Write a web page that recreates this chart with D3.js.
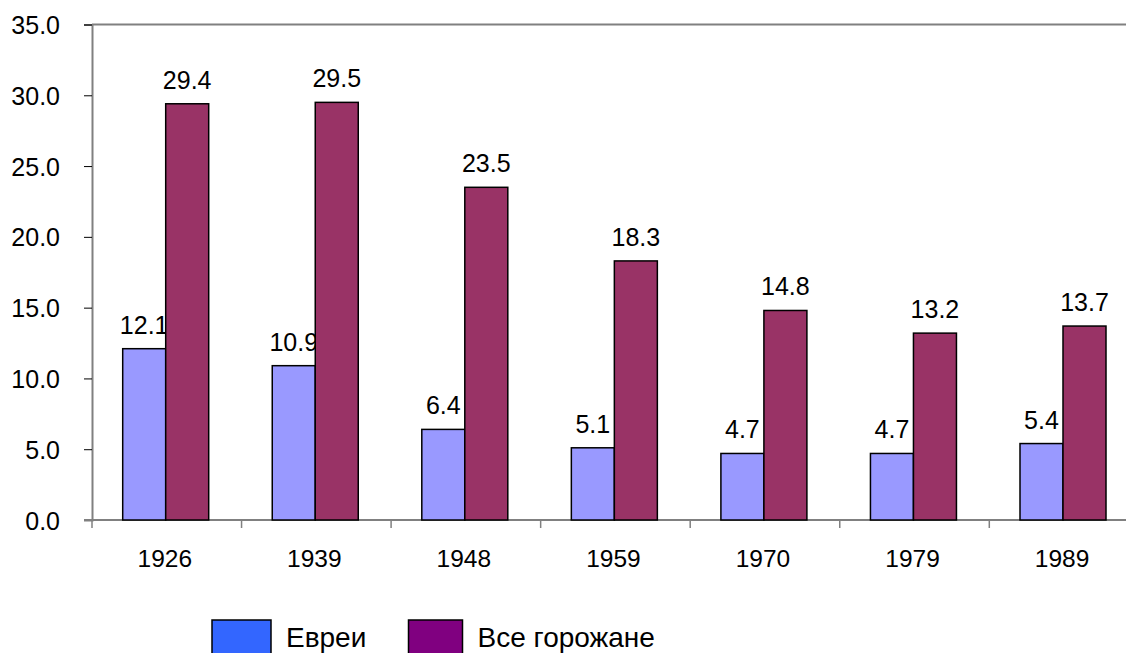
<!DOCTYPE html>
<html>
<head>
<meta charset="utf-8">
<script src="https://cdn.jsdelivr.net/npm/d3@7"></script>
<style>
    body { margin: 0; background: #fff; }
    svg { display: block; font-family: "Liberation Sans", Arial, sans-serif; }
</style>
</head>
<body>
<svg id="chart" width="1126" height="653"></svg>
<script>
// данные
const years = ['1926', '1939', '1948', '1959', '1970', '1979', '1989'];
const jews = [12.1, 10.9, 6.4, 5.1, 4.7, 4.7, 5.4];
const allUrban = [29.4, 29.5, 23.5, 18.3, 14.8, 13.2, 13.7];
const seriesNames = ['Евреи', 'Все горожане'];
const yTicks = [0, 5, 10, 15, 20, 25, 30, 35];

const svg = d3.select('#chart');
const plotLeft = 92, plotTop = 24.5, plotBottom = 520;
const step = 149.55;

let x = d3.scaleBand().domain(years).range([plotLeft, plotLeft + step * years.length]).padding(0);
let y = d3.scaleLinear().domain([0, 35]).range([plotBottom, plotTop]);

// верхняя рамка
svg.append('line')
    .attr('x1', plotLeft).attr('x2', 1126)
    .attr('y1', plotTop).attr('y2', plotTop)
    .attr('stroke', '#808080').attr('stroke-width', 2);

// ось Y
let yAxis = svg.append('g')
    .attr('transform', 'translate(' + plotLeft + ',0)')
    .call(d3.axisLeft(y).tickValues(yTicks).tickFormat(d3.format('.1f')).tickSize(8));
yAxis.select('.domain').attr('stroke', '#808080').attr('stroke-width', 2);
yAxis.selectAll('.tick line').attr('stroke', '#000').attr('stroke-width', 1);
yAxis.selectAll('text').attr('font-size', 25).attr('fill', '#000')
    .attr('font-family', '"Liberation Sans", Arial, sans-serif')
    .attr('x', -32).attr('dy', '0.36em');

// ось X
let boundaries = years.map((d, i) => plotLeft + step * (i + 1));
let xAxisG = svg.append('g');
xAxisG.append('line')
    .attr('x1', plotLeft - 8).attr('x2', 1126)
    .attr('y1', plotBottom).attr('y2', plotBottom)
    .attr('stroke', '#808080').attr('stroke-width', 2);
xAxisG.selectAll('.xtick').data([plotLeft].concat(boundaries)).enter().append('line')
    .attr('x1', d => d).attr('x2', d => d)
    .attr('y1', plotBottom).attr('y2', plotBottom + 8)
    .attr('stroke', '#808080').attr('stroke-width', 1.5);
xAxisG.selectAll('.xlabel').data(years).enter().append('text')
    .attr('x', d => x(d) + x.bandwidth() / 2 - 2)
    .attr('y', 567)
    .attr('text-anchor', 'middle')
    .attr('font-size', 24.5)
    .text(d => d);

// столбцы
const barW = 43;
const offset = 30.7;
const colors = ['#9999FF', '#993366'];
const seriesData = [jews, allUrban];

seriesData.forEach((vals, s) => {
    let g = svg.append('g');
    g.selectAll('rect').data(vals).enter().append('rect')
        .attr('x', (d, i) => x(years[i]) + offset + s * barW)
        .attr('y', d => y(d))
        .attr('width', barW)
        .attr('height', d => y(0) - y(d))
        .attr('fill', colors[s])
        .attr('stroke', '#000')
        .attr('stroke-width', 1.5);
    g.selectAll('text').data(vals).enter().append('text')
        .attr('x', (d, i) => x(years[i]) + offset + s * barW + barW / 2)
        .attr('y', d => y(d) - 15)
        .attr('text-anchor', 'middle')
        .attr('font-size', 25)
        .text(d => d.toFixed(1));
});

// легенда
const legendColors = ['#3366FF', '#800080'];
const legendX = [212, 408.5];
const legendW = [59, 54];
seriesNames.forEach((name, i) => {
    svg.append('rect')
        .attr('x', legendX[i]).attr('y', 620)
        .attr('width', legendW[i]).attr('height', 40)
        .attr('fill', legendColors[i])
        .attr('stroke', '#000').attr('stroke-width', 1.5);
    svg.append('text')
        .attr('x', legendX[i] + legendW[i] + 15)
        .attr('y', 647)
        .attr('font-size', 28)
        .text(name);
});
</script>
</body>
</html>
